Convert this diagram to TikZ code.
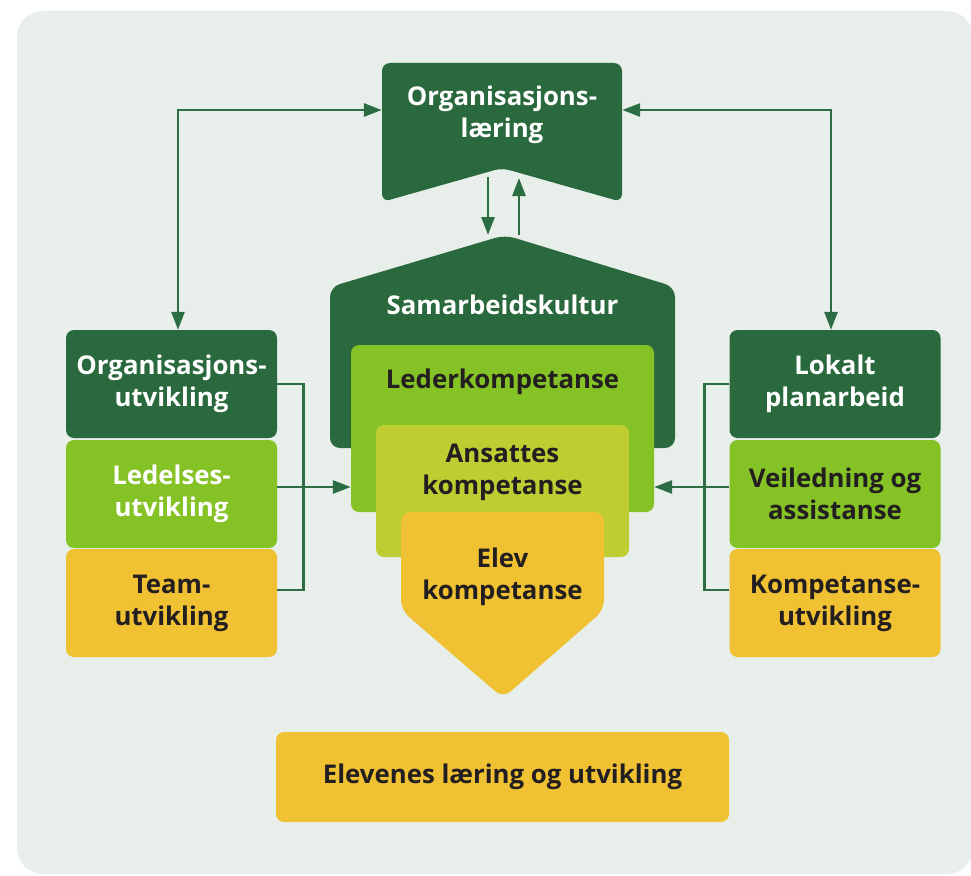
\documentclass[tikz,border=0pt]{standalone}
\usepackage{fontspec}
\setmainfont{Open Sans}
\usetikzlibrary{arrows.meta,calc}

\definecolor{morkgronn}{HTML}{29693D}
\definecolor{lysgronn}{HTML}{84C225}
\definecolor{olivengronn}{HTML}{BECD32}
\definecolor{gul}{HTML}{F0C133}
\definecolor{bakgrunn}{HTML}{E8EFEB}
\definecolor{pilfarge}{HTML}{2C6C42}
\definecolor{tekst}{HTML}{231F20}

\begin{document}
\begin{tikzpicture}[x=1pt,y=-1pt,>={Triangle[length=18pt,width=13pt]},
    skrift/.style={font=\fontsize{25.8}{32}\selectfont\bfseries, align=center},
    boks/.style={skrift, rounded corners=8pt, inner sep=0pt, minimum width=211pt, minimum height=108pt},
    pil/.style={draw=pilfarge, line width=2.8pt}]
      \useasboundingbox (0,0) rectangle (971,875);
      \fill[bakgrunn, rounded corners=26pt] (17,11) rectangle (973,874);

      % Add top shape
      \fill[morkgronn, rounded corners=8pt] (382,63) -- (622,63) -- (622,202) -- (502,168) -- (382,202) -- cycle;
      \node[skrift, text=white, minimum width=240pt, inner sep=0pt] (orglaer) at (502,115) {Organisasjons-\\læring};
      \coordinate (knekk) at (502,168);

      % Add centre shapes
      \fill[morkgronn, rounded corners=10pt] (330,448) -- (330,287) -- (505,235) -- (675,287) -- (675,448) -- cycle;
      \coordinate (tak) at (505,235);
      \node[skrift, text=white] (samarb) at (502.5,305) {Samarbeidskultur};
      \node[boks, fill=lysgronn, minimum width=303pt, minimum height=167pt] (leder) at (502.5,428.5) {};
      \node[skrift, text=tekst] (ledertekst) at (502.5,382) {Lederkompetanse};
      \node[boks, fill=olivengronn, minimum width=253pt, minimum height=132pt] (ansatte) at (502.5,491) {};
      \node[skrift, text=tekst] (ansattetekst) at (502.5,472) {Ansattes\\kompetanse};
      \fill[gul, rounded corners=10pt] (401,512) -- (604,512) -- (604,610) -- (503,698) -- (401,610) -- cycle;
      \node[skrift, text=tekst] (elev) at (502.5,577) {Elev\\kompetanse};

      % Add left boxes
      \node[boks, fill=morkgronn, text=white] (orgutv) at (171.5,384) {Organisasjons-\\utvikling};
      \node[boks, fill=lysgronn, text=white] (ledutv) at (171.5,494) {Ledelses-\\utvikling};
      \node[boks, fill=gul, text=tekst] (teamutv) at (171.5,603) {Team-\\utvikling};

      % Add right boxes
      \node[boks, fill=morkgronn, text=white] (lokalt) at (835,384) {Lokalt\\planarbeid};
      \node[boks, fill=lysgronn, text=tekst] (veiled) at (835,494) {Veiledning og\\assistanse};
      \node[boks, fill=gul, text=tekst] (kompetutv) at (835,603) {Kompetanse-\\utvikling};

      % Add bottom box
      \node[boks, fill=gul, text=tekst, minimum width=453pt, minimum height=90pt] (elevenes) at (502.5,777) {Elevenes læring og utvikling};

      % Add connectors
      \draw[pil] (orgutv.east) -- ++(26,0) |- ([yshift=13pt]teamutv.east);
      \draw[pil,->] ([yshift=7pt]ledutv.east) -- ([yshift=7pt]ledutv.east -| leder.west);
      \draw[pil] (lokalt.west) -- ++(-25,0) |- ([yshift=13pt]kompetutv.west);
      \draw[pil,->] ([yshift=7pt]veiled.west) -- ([yshift=7pt]veiled.west -| leder.east);
      \draw[pil,<->] ([xshift=6.5pt]orgutv.north) |- ([yshift=5pt]orglaer.west);
      \draw[pil,<->] ([yshift=5pt]orglaer.east) -| ([xshift=-4pt]lokalt.north);
      \draw[pil,->] ($(knekk)+(-14,9)$) -- ($(tak)+(-17,0)$);
      \draw[pil,->] ($(tak)+(14,0)$) -- ($(knekk)+(17,10)$);
\end{tikzpicture}
\end{document}
